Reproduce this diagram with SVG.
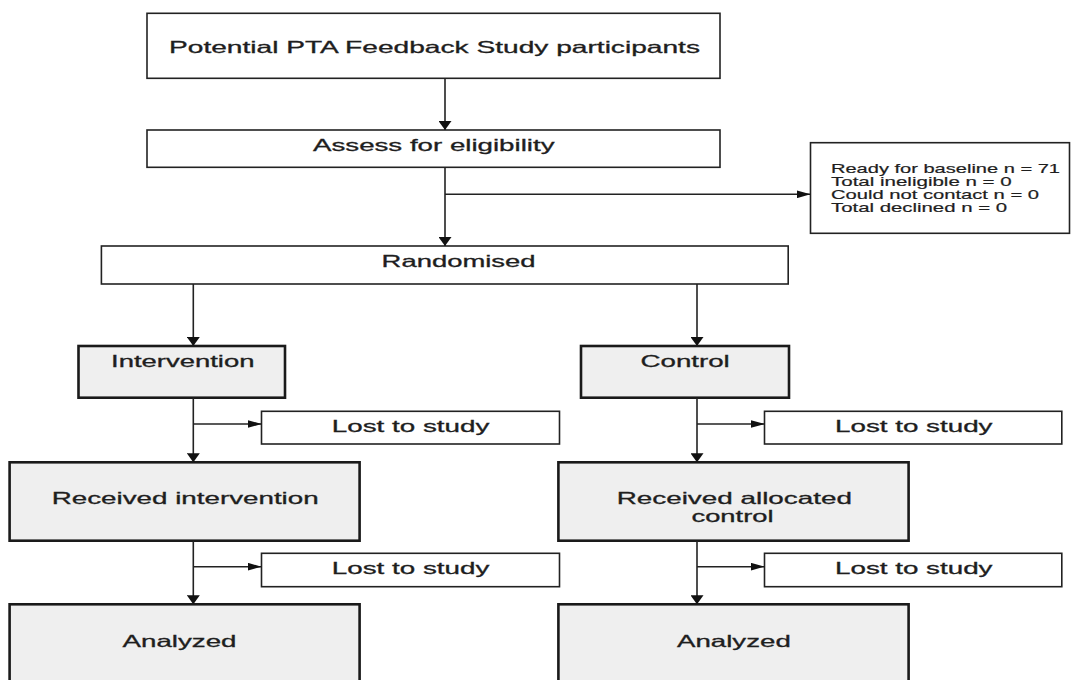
<svg xmlns="http://www.w3.org/2000/svg" width="1072" height="680" viewBox="0 0 1072 680">
<style>
.box{fill:#ffffff;stroke:#222;stroke-width:1.6}
.gbox{fill:#efefef;stroke:#1a1a1a;stroke-width:2.6}
.t{font-family:"Liberation Sans",Arial,Helvetica,sans-serif;font-size:16.5px;fill:#1e1e1e;stroke:#1e1e1e;stroke-width:0.3}
.s{font-family:"Liberation Sans",Arial,Helvetica,sans-serif;font-size:13px;fill:#1e1e1e;stroke:#1e1e1e;stroke-width:0.2}
.c line{stroke:#222;stroke-width:1.6;fill:none}
.v{marker-end:url(#arrV)}
.h{marker-end:url(#arrH)}
</style>
<defs>
<marker id="arrV" markerUnits="userSpaceOnUse" viewBox="0 0 9 13" refX="9" refY="6.5" markerWidth="9" markerHeight="13" orient="auto"><path d="M0,0 L9,6.5 L0,13 z" fill="#111"/></marker>
<marker id="arrH" markerUnits="userSpaceOnUse" viewBox="0 0 14 8" refX="14" refY="4" markerWidth="14" markerHeight="8" orient="auto"><path d="M0,0 L14,4 L0,8 z" fill="#111"/></marker>
</defs>
<rect width="1072" height="680" fill="#ffffff"/>
<g id="potential"><rect class="box" x="147" y="13.3" width="573" height="65"/><text class="t" x="169" y="53.3" textLength="531" lengthAdjust="spacingAndGlyphs">Potential PTA Feedback Study participants</text></g>
<g id="assess"><rect class="box" x="147" y="130" width="573" height="37.3"/><text class="t" x="313" y="150.7" textLength="241.5" lengthAdjust="spacingAndGlyphs">Assess for eligibility</text></g>
<g id="excluded"><rect class="box" x="810.5" y="142.7" width="259" height="90.6"/>
<text class="s" x="831" y="172.7" textLength="229" lengthAdjust="spacingAndGlyphs">Ready for baseline n = 71</text>
<text class="s" x="831" y="186" textLength="180.7" lengthAdjust="spacingAndGlyphs">Total ineligible n = 0</text>
<text class="s" x="831" y="199" textLength="208" lengthAdjust="spacingAndGlyphs">Could not contact n = 0</text>
<text class="s" x="831" y="212.3" textLength="176" lengthAdjust="spacingAndGlyphs">Total declined n = 0</text></g>
<g id="randomised"><rect class="box" x="101.4" y="246" width="686.8" height="38"/><text class="t" x="381.6" y="267.3" textLength="154" lengthAdjust="spacingAndGlyphs">Randomised</text></g>
<g id="intervention"><rect class="gbox" x="78.5" y="346" width="206.5" height="51.7"/><text class="t" x="111" y="367.3" textLength="143.5" lengthAdjust="spacingAndGlyphs">Intervention</text></g>
<g id="control"><rect class="gbox" x="581" y="346" width="208" height="51.7"/><text class="t" x="640.5" y="367.3" textLength="89.3" lengthAdjust="spacingAndGlyphs">Control</text></g>
<g id="lost-int-1"><rect class="box" x="261.5" y="411.3" width="298" height="32.7"/><text class="t" x="331.8" y="432" textLength="157.5" lengthAdjust="spacingAndGlyphs">Lost to study</text></g>
<g id="lost-ctl-1"><rect class="box" x="764.5" y="411.3" width="297.3" height="32.7"/><text class="t" x="835" y="432" textLength="157.5" lengthAdjust="spacingAndGlyphs">Lost to study</text></g>
<g id="received-int"><rect class="gbox" x="9.6" y="462.3" width="350" height="78.4"/><text class="t" x="51.7" y="504" textLength="267" lengthAdjust="spacingAndGlyphs">Received intervention</text></g>
<g id="received-ctl"><rect class="gbox" x="558.4" y="462.3" width="350.2" height="78.4"/><text class="t" x="616.7" y="504" textLength="235.3" lengthAdjust="spacingAndGlyphs">Received allocated</text><text class="t" x="691.5" y="522.3" textLength="82" lengthAdjust="spacingAndGlyphs">control</text></g>
<g id="lost-int-2"><rect class="box" x="261.5" y="553.3" width="298" height="33.4"/><text class="t" x="331.8" y="574.3" textLength="157.5" lengthAdjust="spacingAndGlyphs">Lost to study</text></g>
<g id="lost-ctl-2"><rect class="box" x="764.5" y="553.3" width="297.3" height="33.4"/><text class="t" x="835" y="574.3" textLength="157.5" lengthAdjust="spacingAndGlyphs">Lost to study</text></g>
<g id="analyzed-int"><rect class="gbox" x="9.6" y="604.3" width="350" height="100"/><text class="t" x="122.5" y="646.7" textLength="114" lengthAdjust="spacingAndGlyphs">Analyzed</text></g>
<g id="analyzed-ctl"><rect class="gbox" x="558.4" y="604.3" width="350.2" height="100"/><text class="t" x="677" y="646.7" textLength="113.8" lengthAdjust="spacingAndGlyphs">Analyzed</text></g>
<g id="connectors" class="c">
<line class="v" x1="445" y1="78.3" x2="445" y2="130"/>
<line class="v" x1="445" y1="167.3" x2="445" y2="246"/>
<line class="h" x1="445" y1="194.3" x2="810.5" y2="194.3"/>
<line class="v" x1="193.3" y1="284" x2="193.3" y2="346"/>
<line class="v" x1="697" y1="284" x2="697" y2="346"/>
<line class="v" x1="193.3" y1="397.7" x2="193.3" y2="462.3"/>
<line class="h" x1="193.3" y1="424" x2="261.5" y2="424"/>
<line class="v" x1="697" y1="397.7" x2="697" y2="462.3"/>
<line class="h" x1="697" y1="424" x2="764.5" y2="424"/>
<line class="v" x1="193.3" y1="540.7" x2="193.3" y2="604.3"/>
<line class="h" x1="193.3" y1="566.7" x2="261.5" y2="566.7"/>
<line class="v" x1="697" y1="540.7" x2="697" y2="604.3"/>
<line class="h" x1="697" y1="566.7" x2="764.5" y2="566.7"/>
</g>
</svg>
